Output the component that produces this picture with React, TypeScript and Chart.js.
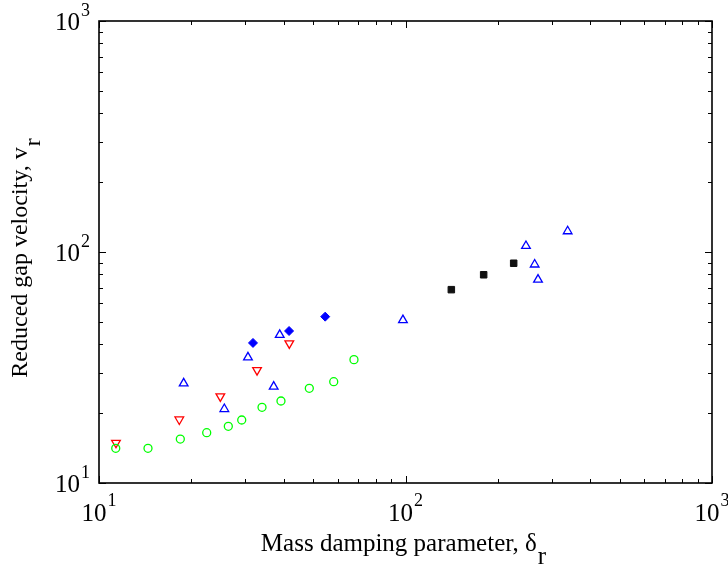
import React, { useEffect, useRef } from 'react';
import { Chart, registerables } from 'chart.js';

Chart.register(...registerables);

// ---- Data ----
const circleX = [11.34, 14.45, 18.42, 22.46, 26.42, 29.22, 34.03, 39.24, 48.55, 58.32, 67.9];
const circleY = [14.13, 14.13, 15.5, 16.51, 17.6, 18.74, 21.27, 22.65, 25.7, 27.45, 34.2];

const downTriX = [11.36, 18.28, 24.88, 32.78, 41.77];
const downTriY = [14.93, 18.84, 23.7, 30.8, 40.2];

const upTriX = [18.89, 25.64, 30.62, 37.15, 38.87, 98.1, 247.2, 263.9, 270.6, 338.1];
const upTriY = [27.0, 20.9, 35.0, 26.15, 43.8, 50.7, 106.2, 88.3, 75.9, 123.0];

const diamondX = [31.8, 41.7, 54.7];
const diamondY = [40.4, 45.5, 52.5];

const squareX = [141.1, 179.9, 225.4];
const squareY = [68.7, 79.7, 89.4];

const xTickValues = [10, 100, 1000];
const xTickExponents = ['1', '2', '3'];
const yTickValues = [10, 100, 1000];
const yTickExponents = ['1', '2', '3'];
const minorMultipliers = [2, 3, 4, 5, 6, 7, 8, 9];

const xLabelMain = 'Mass damping parameter, δ';
const xLabelSub = 'r';
const yLabelMain = 'Reduced gap velocity, v';
const yLabelSub = 'r';

const FONT = "'Liberation Serif', 'Times New Roman', serif";

const toPoints = (xs: number[], ys: number[]) => xs.map((x, i) => ({ x, y: ys[i] }));

const matlabAxes = {
  id: 'matlabAxes',
  afterDraw(chart: any) {
    const ctx: CanvasRenderingContext2D = chart.ctx;
    const { left, right, top, bottom } = chart.chartArea;
    const xs = chart.scales.x;
    const ys = chart.scales.y;
    ctx.save();
    ctx.strokeStyle = '#000';
    ctx.fillStyle = '#000';

    const line = (x1: number, y1: number, x2: number, y2: number) => {
      ctx.beginPath();
      ctx.moveTo(x1, y1);
      ctx.lineTo(x2, y2);
      ctx.stroke();
    };

    // ticks
    ctx.lineWidth = 1;
    const majorLen = 7;
    const minorLen = 4;
    const xTickList: [number, number][] = [];
    const yTickList: [number, number][] = [];
    for (let d = 0; d < xTickValues.length; d++) {
      xTickList.push([xTickValues[d], majorLen]);
      if (d < xTickValues.length - 1) minorMultipliers.forEach(m => xTickList.push([xTickValues[d] * m, minorLen]));
    }
    for (let d = 0; d < yTickValues.length; d++) {
      yTickList.push([yTickValues[d], majorLen]);
      if (d < yTickValues.length - 1) minorMultipliers.forEach(m => yTickList.push([yTickValues[d] * m, minorLen]));
    }
    xTickList.forEach(([v, len]) => {
      const p = Math.round(xs.getPixelForValue(v)) + 0.5;
      line(p, bottom, p, bottom - len);
      line(p, top, p, top + len);
    });
    yTickList.forEach(([v, len]) => {
      const p = Math.round(ys.getPixelForValue(v)) + 0.5;
      line(left, p, left + len, p);
      line(right, p, right - len, p);
    });

    // box
    ctx.lineWidth = 1.6;
    ctx.strokeRect(left, top, right - left, bottom - top);

    // tick labels
    const baseFont = `25px ${FONT}`;
    const supFont = `18px ${FONT}`;
    ctx.textBaseline = 'alphabetic';
    ctx.textAlign = 'left';
    xTickValues.forEach((v, i) => {
      const p = xs.getPixelForValue(v);
      ctx.font = baseFont;
      const w1 = ctx.measureText('10').width;
      ctx.font = supFont;
      const w2 = ctx.measureText(xTickExponents[i]).width;
      const start = p - (w1 + 1 + w2) / 2;
      ctx.font = baseFont;
      ctx.fillText('10', start, bottom + 38);
      ctx.font = supFont;
      ctx.fillText(xTickExponents[i], start + w1 + 1, bottom + 23);
    });
    yTickValues.forEach((v, i) => {
      const p = ys.getPixelForValue(v);
      ctx.font = baseFont;
      const w1 = ctx.measureText('10').width;
      ctx.font = supFont;
      const w2 = ctx.measureText(yTickExponents[i]).width;
      const end = left - 9;
      const start = end - w2 - 1 - w1;
      ctx.font = baseFont;
      ctx.fillText('10', start, p + 9);
      ctx.font = supFont;
      ctx.fillText(yTickExponents[i], start + w1 + 1, p - 5);
    });

    // axis titles
    const titleFont = `25px ${FONT}`;
    ctx.font = titleFont;
    const xw1 = ctx.measureText(xLabelMain).width;
    const xw2 = ctx.measureText(xLabelSub).width;
    const xc = (left + right) / 2 - 2;
    const xStart = xc - (xw1 + 1 + xw2) / 2;
    ctx.fillText(xLabelMain, xStart, bottom + 68);
    ctx.fillText(xLabelSub, xStart + xw1 + 1, bottom + 81);

    ctx.font = `24px ${FONT}`;
    const yw1 = ctx.measureText(yLabelMain).width;
    const yw2 = ctx.measureText(yLabelSub).width;
    const yc = (top + bottom) / 2 + 6;
    ctx.save();
    ctx.translate(27, yc + (yw1 + 1 + yw2) / 2);
    ctx.rotate(-Math.PI / 2);
    ctx.fillText(yLabelMain, 0, 0);
    ctx.fillText(yLabelSub, yw1 + 1, 13);
    ctx.restore();

    ctx.restore();
  },
};

export default function App() {
  const canvasRef = useRef<HTMLCanvasElement | null>(null);

  useEffect(() => {
    document.body.style.margin = '0';
    const canvas = canvasRef.current;
    if (!canvas) return;
    const hollow = { backgroundColor: 'rgba(0,0,0,0)', showLine: false };
    const chart = new Chart(canvas, {
      type: 'scatter',
      data: {
        datasets: [
          {
            label: 'circles',
            data: toPoints(circleX, circleY),
            pointStyle: 'circle',
            pointRadius: 4,
            borderColor: '#00ff00',
            pointBorderWidth: 1.3,
            ...hollow,
          },
          {
            label: 'down triangles',
            data: toPoints(downTriX, downTriY),
            pointStyle: 'triangle',
            pointRotation: 180,
            pointRadius: 5,
            borderColor: '#ff0000',
            pointBorderWidth: 1.3,
            ...hollow,
          },
          {
            label: 'up triangles',
            data: toPoints(upTriX, upTriY),
            pointStyle: 'triangle',
            pointRadius: 5,
            borderColor: '#0000ff',
            pointBorderWidth: 1.3,
            ...hollow,
          },
          {
            label: 'diamonds',
            data: toPoints(diamondX, diamondY),
            pointStyle: 'rectRot',
            pointRadius: 4.5,
            borderColor: '#0000ff',
            backgroundColor: '#0000ff',
            pointBorderWidth: 1,
            showLine: false,
          },
          {
            label: 'squares',
            data: toPoints(squareX, squareY),
            pointStyle: 'rect',
            pointRadius: 4.6,
            borderColor: '#111111',
            backgroundColor: '#111111',
            pointBorderWidth: 1,
            showLine: false,
          },
        ] as any,
      },
      options: {
        responsive: false,
        animation: false,
        devicePixelRatio: 1,
        events: [],
        layout: { padding: { left: 99, top: 21, right: 16, bottom: 82 } },
        plugins: {
          legend: { display: false },
          tooltip: { enabled: false },
        },
        scales: {
          x: { type: 'logarithmic', min: 10, max: 1000, display: false },
          y: { type: 'logarithmic', min: 10, max: 1000, display: false },
        },
      },
      plugins: [matlabAxes],
    });
    return () => chart.destroy();
  }, []);

  return <canvas ref={canvasRef} width={728} height={565} style={{ display: 'block' }} />;
}
